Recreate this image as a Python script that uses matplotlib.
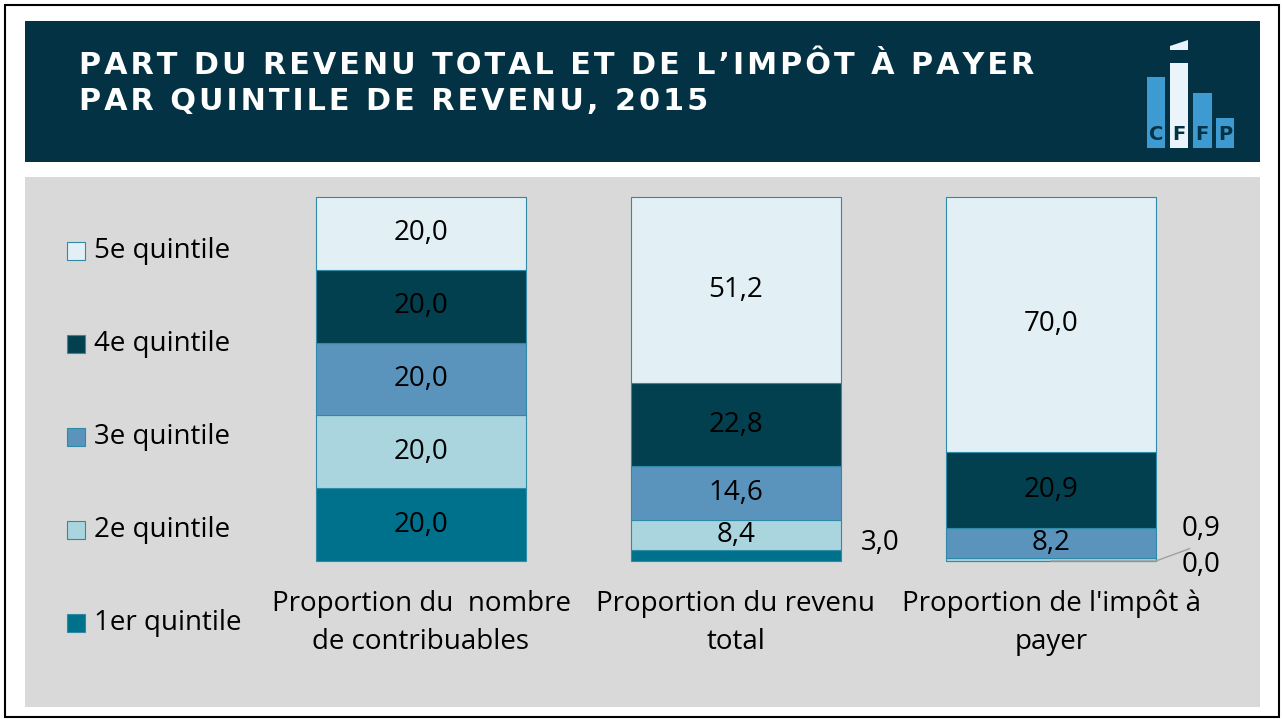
import numpy as np
import matplotlib.pyplot as plt
from matplotlib.patches import Rectangle, Polygon

W, H = 1282, 719

categories = ["Proportion du  nombre\nde contribuables", "Proportion du revenu\ntotal", "Proportion de l'impôt à\npayer"]
series_names = ["1er quintile", "2e quintile", "3e quintile", "4e quintile", "5e quintile"]
q1 = [20.0, 3.0, 0.0]
q2 = [20.0, 8.4, 0.9]
q3 = [20.0, 14.6, 8.2]
q4 = [20.0, 22.8, 20.9]
q5 = [20.0, 51.2, 70.0]
colors = ['#00718C', '#AAD5DF', '#5A94BD', '#02404F', '#E2F0F5']
title_lines = ["PART DU REVENU TOTAL ET DE L\u2019IMPÔT À PAYER", "PAR QUINTILE DE REVENU, 2015"]

plt.rcParams['font.family'] = ['Open Sans', 'DejaVu Sans']

fig = plt.figure(figsize=(W / 100, H / 100), dpi=100)
fig.patch.set_facecolor('white')

def fx(x):
  return x / W

def fy(y):
  return 1 - y / H

def rect(x0, y0, x1, y1, **kw):
  fig.add_artist(Rectangle((fx(x0), fy(y1)), fx(x1) - fx(x0), fy(y0) - fy(y1),
                           transform=fig.transFigure, **kw))

def spaced(s):
  # poor man's letter spacing
  return '\u200a'.join(s)

# outer frame and header
rect(5, 5, 1279, 717, facecolor='none', edgecolor='black', lw=1.5)
rect(25, 21, 1260, 162, facecolor='#023243', edgecolor='none')
for ty, line in zip([65, 101], title_lines):
  fig.text(fx(79), fy(ty), spaced(line), color='white', fontsize=21.8, fontweight='bold',
           family='DejaVu Sans', va='center', ha='left')

# logo (rough)
rect(1147, 77, 1165, 148, facecolor='#3E9BD2', edgecolor='none')
rect(1170, 63, 1188, 148, facecolor='#EAF4FA', edgecolor='none')
fig.add_artist(Polygon([(fx(1170), fy(50)), (fx(1188), fy(50)), (fx(1188), fy(40)), (fx(1170), fy(46))],
                       closed=True, transform=fig.transFigure, facecolor='#EAF4FA', edgecolor='none'))
rect(1193, 93, 1212, 148, facecolor='#3E9BD2', edgecolor='none')
rect(1216, 118, 1234, 148, facecolor='#3E9BD2', edgecolor='none')
for lx, ch in zip([1156, 1179, 1202, 1225], "CFFP"):
  fig.text(fx(lx), fy(134), ch, color='#023243', fontsize=14, fontweight='bold',
           family='DejaVu Sans', ha='center', va='center')

# chart panel
x0, x1, y0, y1 = 25, 1260, 177, 707
ax = fig.add_axes([fx(x0), fy(y1), fx(x1) - fx(x0), fy(y0) - fy(y1)])
ax.set_facecolor('#D9D9D9')
cx0, unit = 421, 315.0
base, scale = 561, 3.64
ax.set_xlim((x0 - cx0) / unit, (x1 - cx0) / unit)
ax.set_ylim(-(y1 - base) / scale, (base - y0) / scale)
for s in ax.spines.values():
  s.set_visible(False)
ax.set_xticks([])
ax.set_yticks([])

fs = 20
x = np.arange(len(categories))
width = 210 / unit
data = [q1, q2, q3, q4, q5]
bottom = np.zeros(len(categories))
for vals, c, name in zip(data, colors, series_names):
  v = np.array(vals)
  ax.bar(x, v, width, bottom=bottom, color=c, edgecolor='#2E8AA6', linewidth=0.8, label=name)
  for i, val in enumerate(v):
    if val >= 5:
      ax.text(x[i], bottom[i] + val / 2, f"{val:.1f}".replace('.', ','), ha='center', va='center',
              fontsize=fs, color='black')
  bottom += v

# small labels outside
ax.text(1.457, 4.9, f"{q1[1]:.1f}".replace('.', ','), ha='center', va='center', fontsize=fs)
ax.text(2.476, 8.8, f"{q2[2]:.1f}".replace('.', ','), ha='center', va='center', fontsize=fs)
ax.text(2.476, -1.1, f"{q1[2]:.1f}".replace('.', ','), ha='center', va='center', fontsize=fs)
ax.plot([2 + 0.0, 2 + width / 2, 2.44], [0, 0, 3.4], color='#A0A0A0', lw=1)

for i, cat in enumerate(categories):
  ax.text(x[i], -17.0, cat, ha='center', va='center', fontsize=fs, linespacing=1.45)

# legend (manual)
leg_y = [623, 530, 437, 344, 251]
for ly, c, name in zip(leg_y, colors, series_names):
  rect(67, ly - 9, 85, ly + 9, facecolor=c, edgecolor='#2E8AA6', lw=0.8)
  fig.text(fx(94), fy(ly), name, fontsize=fs, va='center', ha='left')

fig.savefig('out.png', dpi=100, facecolor='white')
